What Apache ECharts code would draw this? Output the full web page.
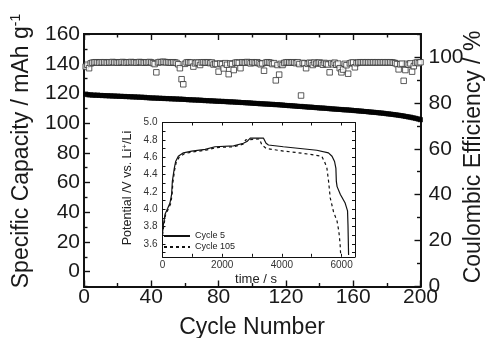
<!DOCTYPE html>
<html>
<head>
<meta charset="utf-8">
<script src="https://cdn.jsdelivr.net/npm/echarts@6/dist/echarts.min.js"></script>
<style>
  html, body { margin: 0; padding: 0; background: #fff; }
  #chart { width: 485px; height: 338px; }
</style>
</head>
<body>
<div id="chart"></div>
<script>
// capacity (mAh/g) per cycle, cycles 1..200
const capacity = [
  119.6, 119.2, 119.0, 119.1, 118.8, 118.9, 118.7, 118.9, 118.6, 118.7,
  118.5, 118.6, 118.4, 118.5, 118.3, 118.4, 118.2, 118.3, 118.1, 118.2,
  118.0, 118.1, 117.9, 118.0, 117.8, 117.9, 117.7, 117.8, 117.6, 117.7,
  117.5, 117.6, 117.4, 117.5, 117.3, 117.4, 117.1, 117.2, 117.0, 116.9,
  117.0, 116.8, 116.9, 116.7, 116.8, 116.6, 116.7, 116.5, 116.6, 116.4,
  116.5, 116.3, 116.4, 116.2, 116.3, 116.1, 116.2, 116.0, 116.1, 115.9,
  115.9, 115.7, 115.8, 115.6, 115.7, 115.5, 115.6, 115.4, 115.5, 115.3,
  115.3, 115.1, 115.2, 115.0, 115.1, 114.9, 115.0, 114.8, 114.7, 114.8,
  114.6, 114.7, 114.5, 114.6, 114.4, 114.3, 114.4, 114.2, 114.3, 114.1,
  114.0, 114.1, 113.9, 113.8, 113.9, 113.7, 113.6, 113.7, 113.5, 113.4,
  113.4, 113.2, 113.3, 113.1, 113.0, 113.1, 112.9, 112.8, 112.9, 112.7,
  112.6, 112.7, 112.5, 112.4, 112.5, 112.3, 112.2, 112.2, 112.0, 111.9,
  111.9, 111.7, 111.8, 111.6, 111.5, 111.5, 111.3, 111.2, 111.3, 111.1,
  111.0, 111.0, 110.8, 110.7, 110.8, 110.6, 110.5, 110.4, 110.4, 110.2,
  110.1, 110.2, 110.0, 109.9, 109.9, 109.7, 109.6, 109.6, 109.4, 109.4,
  109.3, 109.2, 109.2, 109.0, 108.9, 109.0, 108.8, 108.7, 108.7, 108.5,
  108.4, 108.4, 108.2, 108.1, 108.1, 107.9, 107.8, 107.8, 107.6, 107.5,
  107.4, 107.3, 107.2, 107.1, 107.0, 106.8, 106.8, 106.6, 106.5, 106.3,
  106.2, 106.1, 105.9, 105.8, 105.6, 105.5, 105.3, 105.1, 105.0, 104.8,
  104.5, 104.4, 104.1, 104.0, 103.7, 103.5, 103.2, 103.0, 102.6, 102.3
];

// coulombic efficiency (%) per cycle
const efficiency = [
  95.8, 96.6, 95.1, 97.2, 97.5, 97.6, 97.7, 97.6, 97.5, 97.7,
  97.6, 97.7, 97.6, 97.5, 97.7, 97.6, 97.8, 97.6, 97.7, 97.5,
  97.6, 97.7, 97.8, 97.6, 97.5, 97.7, 97.6, 97.8, 97.6, 97.7,
  97.5, 97.6, 97.8, 97.7, 97.6, 97.5, 97.7, 97.6, 97.8, 97.6,
  97.3, 96.9, 93.3, 97.6, 97.8, 97.7, 97.9, 97.8, 97.6, 97.7,
  97.6, 97.5, 97.7, 97.6, 97.4, 96.8, 95.1, 90.3, 88.1, 97.0,
  97.6, 97.7, 97.5, 97.6, 95.8, 97.2, 97.6, 97.5, 96.5, 97.6,
  97.7, 97.6, 97.5, 97.7, 97.3, 97.6, 96.7, 97.1, 96.9, 93.6,
  97.2, 96.8, 95.0, 97.3, 96.6, 92.5, 97.2, 96.9, 94.3, 97.5,
  97.6, 97.4, 95.1, 97.7, 97.6, 97.5, 97.8, 97.6, 97.2, 97.7,
  97.6, 97.4, 97.7, 97.3, 96.8, 97.2, 94.0, 97.5, 97.7, 97.6,
  97.4, 96.9, 97.3, 89.8, 96.5, 92.3, 97.0, 96.5, 97.4, 97.6,
  97.7, 97.6, 97.5, 97.7, 97.6, 97.3, 97.7, 96.9, 83.2, 97.4,
  97.2, 95.1, 97.0, 97.5, 97.3, 96.5, 97.6, 97.1, 97.4, 97.6,
  97.2, 96.6, 97.4, 97.0, 96.7, 93.3, 97.3, 96.8, 97.5, 96.6,
  97.1, 95.1, 93.3, 94.5, 97.0, 96.4, 92.7, 97.2, 97.5, 97.6,
  95.5, 97.3, 97.6, 97.7, 97.6, 97.7, 97.6, 97.7, 97.6, 97.7,
  97.6, 97.7, 97.6, 97.7, 97.6, 97.7, 97.6, 97.7, 97.6, 97.7,
  97.6, 97.7, 97.6, 97.5, 97.3, 96.9, 94.6, 96.8, 97.1, 89.6,
  94.3, 97.0, 96.6, 97.2, 93.6, 96.0, 97.4, 97.6, 97.3, 97.7
];

// inset: potential vs time
const cycle5Time = [0, 30, 85, 175, 250, 305, 330, 395, 440, 530, 700, 980, 1430, 1760, 2380, 2710, 2830, 2940, 3380, 3470, 3550, 4050, 4610, 5170, 5560, 5680, 5765, 5810, 5825, 5850, 5960, 6120, 6200, 6215, 6235];
const cycle5Volt = [3.72, 3.82, 3.94, 4.01, 4.07, 4.17, 4.32, 4.47, 4.55, 4.61, 4.65, 4.67, 4.69, 4.72, 4.73, 4.76, 4.78, 4.82, 4.82, 4.76, 4.74, 4.72, 4.70, 4.68, 4.65, 4.61, 4.55, 4.47, 4.32, 4.26, 4.17, 4.07, 3.98, 3.82, 3.47];
const cycle105Time = [0, 40, 100, 190, 270, 320, 345, 410, 460, 560, 730, 1000, 1450, 1780, 2380, 2700, 2790, 2830, 3250, 3330, 3480, 4050, 4450, 4890, 5340, 5450, 5510, 5565, 5620, 5730, 5850, 5910, 5950, 5970];
const cycle105Volt = [3.70, 3.80, 3.93, 4.00, 4.06, 4.16, 4.30, 4.46, 4.54, 4.60, 4.64, 4.66, 4.68, 4.71, 4.72, 4.75, 4.80, 4.81, 4.81, 4.74, 4.70, 4.67, 4.655, 4.635, 4.61, 4.53, 4.47, 4.32, 4.13, 3.97, 3.86, 3.74, 3.60, 3.47];

// tick positions
const cycleMajor = [0, 40, 80, 120, 160, 200];
const cycleMinor = [20, 60, 100, 140, 180];
const capMajor = [0, 20, 40, 60, 80, 100, 120, 140, 160];
const capMinor = [-10, 10, 30, 50, 70, 90, 110, 130, 150];
const ceMajor = [0, 20, 40, 60, 80, 100];
const ceMinor = [10, 30, 50, 70, 90, 110];
const timeLabels = [0, 2000, 4000, 6000];
const timeTicks = [0, 1000, 2000, 3000, 4000, 5000, 6000];
const voltLabels = [3.6, 3.8, 4.0, 4.2, 4.4, 4.6, 4.8, 5.0];
const voltTicks = [3.5, 3.6, 3.7, 3.8, 3.9, 4.0, 4.1, 4.2, 4.3, 4.4, 4.5, 4.6, 4.7, 4.8, 4.9, 5.0];

const FONT = '"Liberation Sans", Arial, sans-serif';
const INK = '#111';

function axis(grid, position, min, max, ticks, len, label) {
  const main = grid === 0;
  return {
    type: 'value', gridIndex: grid, position, min, max,
    splitLine: { show: false },
    axisLine: { show: true, onZero: false, lineStyle: { color: INK, width: main ? 1.8 : 1 } },
    axisTick: { show: true, inside: true, length: len, customValues: ticks,
      lineStyle: { color: INK, width: main ? 1.4 : 1 } },
    axisLabel: label
      ? Object.assign({ fontFamily: FONT, color: main ? '#1a1a1a' : '#333', fontSize: main ? 21 : 10 }, label)
      : { show: false }
  };
}

const chart = echarts.init(document.getElementById('chart'));

chart.setOption({
  animation: false,
  backgroundColor: '#fff',
  grid: [
    { left: 84, top: 34, right: 64.5, bottom: 51.5 },
    { left: 162.5, top: 122.5, width: 192.5, height: 134.3, show: true, backgroundColor: '#fff', borderWidth: 0 }
  ],
  xAxis: [
    axis(0, 'bottom', 0, 200, cycleMajor, 6, { customValues: cycleMajor, margin: 0 }),
    axis(0, 'bottom', 0, 200, cycleMinor, 3.5),
    axis(0, 'top', 0, 200, cycleMajor, 6),
    axis(0, 'top', 0, 200, cycleMinor, 3.5),
    axis(1, 'bottom', 0, 6450, timeTicks, 3, { customValues: timeLabels, margin: 3, formatter: v => String(v) }),
    axis(1, 'top', 0, 6450, timeTicks, 3)
  ],
  yAxis: [
    axis(0, 'left', -10, 160, capMajor, 6, { customValues: capMajor, margin: 4 }),
    axis(0, 'left', -10, 160, capMinor, 3.5),
    axis(0, 'right', 0, 110, ceMajor, 6, { customValues: ceMajor, margin: 8 }),
    axis(0, 'right', 0, 110, ceMinor, 3.5),
    axis(1, 'left', 3.45, 5.0, voltTicks, 3, { customValues: voltLabels, margin: 5, formatter: v => v.toFixed(1) }),
    axis(1, 'right', 3.45, 5.0, voltTicks, 3)
  ],
  legend: {
    data: ['Cycle 5', 'Cycle 105'],
    orient: 'vertical',
    left: 163, top: 231.5,
    padding: 0, itemGap: 2,
    itemWidth: 26, itemHeight: 9,
    itemStyle: { opacity: 0 },
    textStyle: { fontFamily: FONT, fontSize: 9, color: '#222' }
  },
  series: [
    {
      name: 'Capacity', type: 'scatter', xAxisIndex: 0, yAxisIndex: 0,
      symbol: 'rect', symbolSize: 5, silent: true,
      itemStyle: { color: '#000' },
      data: capacity.map((v, i) => [i + 1, v])
    },
    {
      name: 'Efficiency', type: 'scatter', xAxisIndex: 0, yAxisIndex: 2,
      symbol: 'rect', symbolSize: 5.5, silent: true,
      itemStyle: { color: '#fff', borderColor: '#333', borderWidth: 1 },
      data: efficiency.map((v, i) => [i + 1, v])
    },
    {
      name: 'Cycle 5', type: 'line', xAxisIndex: 4, yAxisIndex: 4,
      symbol: 'none', lineStyle: { color: '#111', width: 1.2 },
      itemStyle: { color: '#111' },
      data: cycle5Time.map((t, i) => [t, cycle5Volt[i]])
    },
    {
      name: 'Cycle 105', type: 'line', xAxisIndex: 4, yAxisIndex: 4,
      symbol: 'none', lineStyle: { color: '#111', width: 1.2, type: [3, 3] },
      itemStyle: { color: '#111' },
      data: cycle105Time.map((t, i) => [t, cycle105Volt[i]])
    }
  ],
  graphic: [
    {
      type: 'text', x: 22, y: 151, rotation: Math.PI / 2,
      style: {
        text: 'Specific Capacity / mAh g{sup|-1}',
        font: '23px ' + FONT, fill: '#1a1a1a', align: 'center', verticalAlign: 'middle',
        rich: { sup: { fontSize: 14, fontFamily: FONT, fill: '#1a1a1a', padding: [0, 0, 12, 0] } }
      }
    },
    {
      type: 'text', x: 474, y: 157, rotation: Math.PI / 2,
      style: { text: 'Coulombic Efficiency / %', font: '23px ' + FONT, fill: '#1a1a1a', align: 'center', verticalAlign: 'middle' }
    },
    {
      type: 'text', x: 252, y: 328,
      style: { text: 'Cycle Number', font: '23px ' + FONT, fill: '#1a1a1a', align: 'center', verticalAlign: 'middle' }
    },
    {
      type: 'text', x: 128, y: 188, rotation: Math.PI / 2,
      style: {
        text: 'Potential /V vs. Li{sup|+}/Li',
        font: '12.5px ' + FONT, fill: '#222', align: 'center', verticalAlign: 'middle',
        rich: { sup: { fontSize: 8, fontFamily: FONT, fill: '#222', padding: [0, 0, 7, 0] } }
      }
    },
    {
      type: 'text', x: 256, y: 279, z: 100,
      style: { text: 'time / s', font: '13px ' + FONT, fill: '#222', align: 'center', verticalAlign: 'middle' }
    }
  ]
});
</script>
</body>
</html>
